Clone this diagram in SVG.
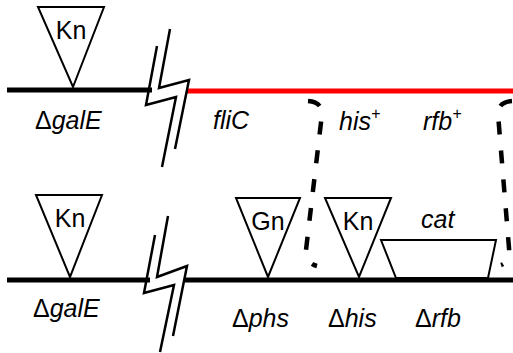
<svg xmlns="http://www.w3.org/2000/svg" width="513" height="353" viewBox="0 0 513 353">
<style>
.t{font-family:"Liberation Sans",Arial,sans-serif;font-size:25px;fill:#000}
.i{font-style:italic}
.u{font-style:normal}
.tri{fill:#fff;stroke:#000;stroke-width:2}
.brk{fill:none;stroke:#000;stroke-width:2.5;stroke-linejoin:miter}
.dash{fill:none;stroke:#000;stroke-width:4.5;stroke-dasharray:13,16}
</style>
<rect width="513" height="353" fill="#fff"/>
<g id="connectors">
<line x1="7" y1="90" x2="152" y2="90" stroke="#000" stroke-width="5"/>
<line x1="187" y1="91" x2="513" y2="91" stroke="#f00" stroke-width="5"/>
<line x1="7" y1="280" x2="150" y2="280" stroke="#000" stroke-width="5"/>
<line x1="185" y1="280" x2="513" y2="280" stroke="#000" stroke-width="5"/>
</g>
<g id="break-top">
<polyline class="brk" points="170,29 159,88 189,80 175,149"/>
<polyline class="brk" points="157,46 146,105 176,97 162,167"/>
</g>
<g id="break-bottom">
<polyline class="brk" points="168,216 157,277 187,266 173,336"/>
<polyline class="brk" points="155,235 144,293 174,285 160,352"/>
</g>
<g id="kn-top">
<polygon class="tri" points="38,7 104,7 73,87"/>
<text class="t" x="71" y="39" text-anchor="middle">Kn</text>
</g>
<g id="galE-top">
<text class="t i" x="35" y="129"><tspan class="u">Δ</tspan>galE</text>
</g>
<g id="fliC">
<text class="t i" x="213" y="129">fliC</text>
</g>
<g id="his-plus">
<text class="t i" x="339" y="130">his<tspan font-size="16" dy="-11">+</tspan></text>
</g>
<g id="rfb-plus">
<text class="t i" x="423" y="130">rfb<tspan font-size="16" dy="-11">+</tspan></text>
</g>
<g id="kn-bottom">
<polygon class="tri" points="36,195 102,195 70,277"/>
<text class="t" x="70" y="227" text-anchor="middle">Kn</text>
</g>
<g id="galE-bottom">
<text class="t i" x="33" y="317"><tspan class="u">Δ</tspan>galE</text>
</g>
<g id="gn">
<polygon class="tri" points="236,198 300,198 268,277"/>
<text class="t" x="268" y="230" text-anchor="middle">Gn</text>
</g>
<g id="phs">
<text class="t i" x="232" y="327"><tspan class="u">Δ</tspan>phs</text>
</g>
<g id="kn-his">
<polygon class="tri" points="325,198 391,198 359,277"/>
<text class="t" x="358" y="230" text-anchor="middle">Kn</text>
</g>
<g id="his">
<text class="t i" x="328" y="327"><tspan class="u">Δ</tspan>his</text>
</g>
<g id="cat">
<polygon class="tri" points="381,240 496,240 488,278 396,278"/>
<text class="t i" x="421" y="228">cat</text>
</g>
<g id="rfb">
<text class="t i" x="415" y="327"><tspan class="u">Δ</tspan>rfb</text>
</g>
<g id="bracket-left">
<path class="dash" d="M308,101 Q322,102 322,114 L306,250 Q306,263 317,266"/>
</g>
<g id="bracket-right">
<path class="dash" d="M512,101 Q498,102 498,114 L509,248 Q510,262 501,265"/>
</g>
</svg>
